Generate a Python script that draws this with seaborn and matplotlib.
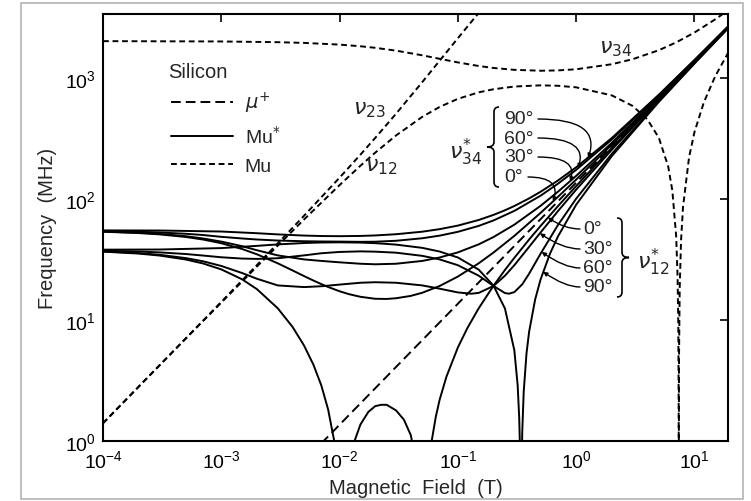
import matplotlib
matplotlib.use("Agg")
import matplotlib.pyplot as plt
import pandas as pd
import seaborn as sns
from matplotlib.lines import Line2D
from matplotlib.path import Path
from matplotlib.patches import PathPatch, Rectangle

# ---------------- data: magnetic field (T) and frequency (MHz) ----------------
# free muon precession
mup_field = [0.0070, 19.2]
mup_freq = [0.949, 2602.0]

# isotropic muonium (Mu)
mu34_field = [1e-4, 1e-3, 3e-3, 5e-3, 1e-2, 1.5e-2, 2e-2, 3e-2, 5e-2, 7e-2, 0.1, 0.15,
              0.2, 0.3, 0.5, 0.7, 1, 2, 3, 5, 7, 10, 15, 19.2]
mu34_freq = [2004.6, 1992.2, 1965.1, 1938.8, 1876.4, 1818.8, 1765.9, 1673.0, 1531.0, 1433.0,
             1337.2, 1249.3, 1203.3, 1161.0, 1141.6, 1148.4, 1174.0, 1292.0, 1421.4, 1687.6,
             1956.9, 2361.9, 3038.0, 3603.5]

mu12_field = [1e-4, 2e-4, 5e-4, 1e-3, 2e-3, 3e-3, 5e-3, 1e-2, 1.5e-2, 2e-2, 3e-2, 5e-2, 7e-2,
              0.1, 0.15, 0.2, 0.3, 0.5, 0.7, 1, 2, 3, 4, 5, 6, 6.5, 7, 7.2, 7.3, 7.35, 7.36,
              7.37, 7.4, 7.5, 7.7, 8, 9, 10, 12, 15, 19.2]
mu12_freq = [1.39, 2.79, 6.97, 13.85, 27.5, 40.94, 67.25, 129.6, 187.2, 240.1, 333.0, 474.9,
             573.0, 668.8, 756.7, 802.7, 845.0, 864.4, 857.6, 832.3, 714.1, 584.5, 451.9,
             318.2, 183.8, 116.5, 49.1, 22.15, 8.67, 1.92, 0.58, 0.78, 4.83, 18.3, 45.3,
             85.5, 220.5, 355.6, 626.0, 1032.0, 1597.5]

mu23_field = [1e-4, 2e-4, 5e-4, 1e-3, 2e-3, 3e-3, 5e-3, 1e-2, 1.5e-2, 2e-2, 3e-2, 5e-2, 7e-2,
              0.1, 0.13, 0.15]
mu23_freq = [1.396, 2.794, 7.0, 14.04, 28.29, 42.72, 72.2, 149.3, 231.2, 317.7, 503.7, 919.7,
             1379.4, 2120.2, 2897.0, 3427.0]

# anisotropic muonium (Mu*), field at 0, 30, 60, 90 degrees to the symmetry axis
mus0_12_field = [1e-4, 2e-4, 3e-4, 5e-4, 7e-4, 1e-3, 1.5e-3, 2e-3, 3e-3, 4e-3, 5e-3, 6e-3,
                 7e-3, 8e-3, 9e-3, 1e-2, 1.2e-2, 1.35e-2, 1.5e-2, 1.75e-2, 2e-2, 2.25e-2,
                 2.5e-2, 3e-2, 3.5e-2, 4e-2, 4.5e-2, 5e-2, 5.5e-2, 6e-2, 6.5e-2, 7e-2, 8e-2,
                 0.1, 0.12, 0.15, 0.2, 0.25, 0.3, 0.4, 0.5, 0.7, 1, 1.5, 2, 3, 5, 10, 19.2]
mus0_12_freq = [36.52, 35.19, 33.90, 31.45, 29.17, 26.04, 21.56, 17.89, 12.43, 8.72, 6.13,
                4.26, 2.87, 1.81, 1.00, 0.36, 0.56, 1.02, 1.36, 1.73, 1.93, 1.98, 1.98, 1.78,
                1.49, 1.11, 0.62, 0.11, 0.43, 0.99, 1.57, 2.17, 3.38, 5.9, 8.49, 12.43, 19.08,
                25.78, 32.44, 46.0, 59.51, 86.58, 127.2, 194.95, 262.7, 398.2, 669.3, 1347.0,
                2594.0]
mus0_34_field = [1e-4, 2e-4, 3e-4, 5e-4, 7e-4, 1e-3, 1.5e-3, 2e-3, 3e-3, 4e-3, 5e-3, 6e-3,
                 7e-3, 8e-3, 1e-2, 1.2e-2, 1.5e-2, 2e-2, 2.5e-2, 3e-2, 4e-2, 5e-2, 7e-2, 0.1,
                 0.15, 0.2, 0.3, 0.5, 0.7, 1, 2, 5, 10, 19.2]
mus0_34_freq = [53.34, 52.01, 50.72, 48.27, 45.99, 42.86, 38.38, 34.71, 29.25, 25.54, 22.95,
                21.08, 19.69, 18.63, 17.18, 16.26, 15.46, 14.89, 14.84, 15.04, 15.73, 16.70,
                18.98, 22.72, 29.25, 35.9, 49.26, 76.33, 103.4, 144.0, 279.5, 686.1, 1363.8,
                2610.8]

mus30_12_field = [1e-4, 2e-4, 3e-4, 5e-4, 7e-4, 1e-3, 1.5e-3, 2e-3, 3e-3, 5e-3, 7e-3, 1e-2,
                  1.5e-2, 2e-2, 3e-2, 5e-2, 7e-2, 0.1, 0.13, 0.15, 0.2, 0.25, 0.3, 0.4, 0.5,
                  0.7, 1, 2, 5, 10, 19.2]
mus30_12_freq = [36.7, 35.5, 34.4, 32.3, 30.4, 27.8, 24.3, 21.8, 19.2, 18.6, 18.9, 19.5, 20.2,
                 20.4, 20.2, 19.2, 18.05, 16.8, 16.4, 16.65, 19.0, 23.1, 28.2, 40.0, 52.6,
                 78.8, 118.9, 253.8, 660.0, 1337.6, 2584.6]
mus30_34_field = [1e-4, 2e-4, 3e-4, 5e-4, 7e-4, 1e-3, 1.5e-3, 2e-3, 3e-3, 5e-3, 7e-3, 1e-2,
                  1.5e-2, 2e-2, 3e-2, 5e-2, 7e-2, 0.1, 0.15, 0.2, 0.3, 0.5, 0.7, 1, 2, 5, 10,
                  19.2]
mus30_34_freq = [53.5, 52.3, 51.2, 49.0, 46.9, 44.2, 40.5, 37.5, 34.0, 31.5, 30.6, 29.8, 29.0,
                 28.7, 29.0, 30.6, 32.65, 36.0, 41.95, 48.2, 61.0, 87.3, 114.0, 154.4, 289.5,
                 695.6, 1373.3, 2620.3]

mus60_12_field = [1e-4, 2e-4, 3e-4, 5e-4, 7e-4, 1e-3, 1.5e-3, 2e-3, 3e-3, 5e-3, 7e-3, 1e-2,
                  1.5e-2, 2e-2, 3e-2, 5e-2, 7e-2, 0.1, 0.15, 0.2, 0.25, 0.27, 0.3, 0.35, 0.4,
                  0.5, 0.7, 1, 2, 5, 10, 19.2]
mus60_12_freq = [37.2, 36.6, 36.0, 34.9, 33.9, 32.8, 32.0, 31.8, 32.2, 34.0, 35.4, 36.3, 36.7,
                 36.5, 35.8, 33.7, 31.5, 28.2, 23.1, 19.0, 16.6, 16.4, 16.9, 19.6, 24.0, 35.1,
                 60.4, 100.1, 234.9, 641.1, 1318.8, 2565.6]
mus60_34_field = [1e-4, 2e-4, 3e-4, 5e-4, 7e-4, 1e-3, 1.5e-3, 2e-3, 3e-3, 5e-3, 7e-3, 1e-2,
                  1.5e-2, 2e-2, 3e-2, 5e-2, 7e-2, 0.1, 0.15, 0.2, 0.3, 0.5, 0.7, 1, 2, 5, 10,
                  19.2]
mus60_34_freq = [54.0, 53.3, 52.6, 51.3, 50.1, 48.4, 46.9, 46.0, 45.1, 44.5, 44.3, 44.2, 44.0,
                 44.1, 44.9, 47.1, 49.5, 53.25, 59.6, 66.1, 79.3, 105.9, 132.8, 173.2, 308.4,
                 714.7, 1392.3, 2639.3]

mus90_12_field = [1e-4, 3e-4, 1e-3, 2e-3, 3e-3, 5e-3, 7e-3, 1e-2, 1.5e-2, 2e-2, 3e-2, 5e-2,
                  7e-2, 0.1, 0.15, 0.2, 0.25, 0.3, 0.32, 0.33, 0.335, 0.34, 0.345, 0.35, 0.36,
                  0.38, 0.4, 0.45, 0.5, 0.6, 0.7, 1, 2, 5, 10, 19.2]
mus90_12_freq = [37.91, 38.02, 39.06, 40.75, 41.9, 43.02, 43.45, 43.6, 43.37, 42.91, 41.74,
                 39.23, 36.6, 32.66, 25.91, 19.13, 12.36, 5.59, 2.88, 1.53, 0.85, 0.18, 0.50,
                 1.18, 2.53, 5.24, 7.95, 14.72, 21.5, 35.05, 48.6, 89.25, 224.8, 631.4, 1309.1,
                 2556.1]
mus90_34_field = [1e-4, 3e-4, 1e-3, 2e-3, 3e-3, 5e-3, 7e-3, 1e-2, 1.5e-2, 2e-2, 3e-2, 5e-2,
                  7e-2, 0.1, 0.15, 0.2, 0.25, 0.3, 0.4, 0.5, 0.7, 1, 2, 5, 10, 19.2]
mus90_34_freq = [54.69, 54.58, 53.54, 51.85, 50.7, 49.58, 49.15, 49.0, 49.23, 49.69, 50.86,
                 53.37, 56.0, 59.94, 66.69, 73.47, 80.24, 87.01, 100.55, 114.1, 141.2, 181.85,
                 317.4, 724.0, 1401.7, 2648.7]

x_ticks = [1e-4, 1e-3, 1e-2, 1e-1, 1e0, 1e1]
x_ticklabels = [r"$\mathregular{10^{-4}}$", r"$\mathregular{10^{-3}}$", r"$\mathregular{10^{-2}}$",
                r"$\mathregular{10^{-1}}$", r"$\mathregular{10^{0}}$", r"$\mathregular{10^{1}}$"]
y_ticks = [1e0, 1e1, 1e2, 1e3]
y_ticklabels = [r"$\mathregular{10^{0}}$", r"$\mathregular{10^{1}}$", r"$\mathregular{10^{2}}$",
                r"$\mathregular{10^{3}}$"]

# ---------------- assemble long table ----------------
series = [
    ("mup", "mu+", mup_field, mup_freq),
    ("Mu34", "Mu", mu34_field, mu34_freq),
    ("Mu12", "Mu", mu12_field, mu12_freq),
    ("Mu23", "Mu", mu23_field, mu23_freq),
    ("Mus0_12", "Mu*", mus0_12_field, mus0_12_freq),
    ("Mus0_34", "Mu*", mus0_34_field, mus0_34_freq),
    ("Mus30_12", "Mu*", mus30_12_field, mus30_12_freq),
    ("Mus30_34", "Mu*", mus30_34_field, mus30_34_freq),
    ("Mus60_12", "Mu*", mus60_12_field, mus60_12_freq),
    ("Mus60_34", "Mu*", mus60_34_field, mus60_34_freq),
    ("Mus90_12", "Mu*", mus90_12_field, mus90_12_freq),
    ("Mus90_34", "Mu*", mus90_34_field, mus90_34_freq),
]
rows = []
for name, kind, fx, fy in series:
    for b, f in zip(fx, fy):
        rows.append({"curve": name, "kind": kind, "field": b, "freq": f})
df = pd.DataFrame(rows)

# ---------------- figure ----------------
sns.set_theme(style="white")
plt.rcParams["font.family"] = ["Liberation Sans", "DejaVu Sans"]
plt.rcParams["mathtext.fontset"] = "dejavusans"

W, H = 751, 502
fig = plt.figure(figsize=(W / 100, H / 100), dpi=100)
fig.patch.set_facecolor("white")
ax = fig.add_axes([103 / W, 1 - 441.7 / H, 625 / W, 426.7 / H])
ax.set_xscale("log")
ax.set_yscale("log")

dash_map = {"mu+": (5.0, 2.6), "Mu*": "", "Mu": (3.0, 1.9)}
sns.lineplot(data=df, x="field", y="freq", units="curve", style="kind", dashes=dash_map,
             estimator=None, sort=False, color="black", linewidth=1.4, legend=False, ax=ax)

ax.set_xlim(1e-4, 19.2)
ax.set_ylim(1.0, 3360)
ax.minorticks_off()
ax.set_xticks(x_ticks)
ax.set_xticklabels(x_ticklabels)
ax.set_yticks(y_ticks)
ax.set_yticklabels(y_ticklabels)
ax.tick_params(which="major", direction="in", length=6, width=1.2, top=True, right=True,
               labelsize=14, colors="black")
ax.tick_params(axis="x", pad=6)
ax.tick_params(axis="y", pad=5)
for sp in ax.spines.values():
    sp.set_linewidth(1.5)
    sp.set_color("black")
ax.set_xlabel("Magnetic  Field  (T)", fontsize=14.5, labelpad=5)
ax.set_ylabel("Frequency  (MHz)", fontsize=14.5, labelpad=6)


def fpx(x, y):
    return (x / W, 1 - y / H)


# legend: title text plus the three line kinds
fig.text(*fpx(168, 72), "Silicon", fontsize=14.5, ha="left", va="center")
handles = [Line2D([], [], color="black", lw=1.4, dashes=(5.0, 2.6)),
           Line2D([], [], color="black", lw=1.4),
           Line2D([], [], color="black", lw=1.4, dashes=(3.0, 1.9))]
labels = [r"$\mu^{+}$", r"Mu$^{*}$", "Mu"]
ax.legend(handles, labels, loc="upper left", bbox_to_anchor=(0.093, 0.845),
          frameon=False, fontsize=14, handlelength=3.2, handletextpad=0.6,
          labelspacing=0.52, borderpad=0.0)

# curve labels
fig.text(*fpx(616, 49), r"$\nu_{34}$", fontsize=16, ha="center", va="center")
fig.text(*fpx(369, 110), r"$\nu_{23}$", fontsize=16, ha="center", va="center")
fig.text(*fpx(381, 167), r"$\nu_{12}$", fontsize=16, ha="center", va="center")
fig.text(*fpx(466, 152), r"$\nu^{*}_{34}$", fontsize=16, ha="center", va="center")
fig.text(*fpx(653, 262), r"$\nu^{*}_{12}$", fontsize=16, ha="center", va="center")

# angle labels for nu*_34 with leaders to the curves
tips34 = [(1.26, 217.0), (1.036, 178.0), (0.886, 139.1), (0.6365, 94.7)]
labs34 = [("90°", 120), ("60°", 139), ("30°", 158), ("0°", 178)]
for (lab, ly), tip in zip(labs34, tips34):
    fig.text(*fpx(504, ly), lab, fontsize=14, ha="left", va="center")
    xend = 538 if lab != "0°" else 528
    ax.annotate("", xy=tip, xycoords="data", xytext=fpx(xend, ly), textcoords="figure fraction",
                arrowprops=dict(arrowstyle="-|>", connectionstyle="angle3,angleA=0,angleB=70",
                                color="black", lw=1.0, shrinkA=0, shrinkB=0, mutation_scale=6))

# angle labels for nu*_12 with leaders to the curves
tips12 = [(0.5776, 69.9), (0.4936, 51.8), (0.5102, 36.3), (0.5254, 24.9)]
labs12 = [("0°", 230), ("30°", 250), ("60°", 269), ("90°", 288)]
for (lab, ly), tip in zip(labs12, tips12):
    fig.text(*fpx(583, ly), lab, fontsize=14, ha="left", va="center")
    ax.annotate("", xy=tip, xycoords="data", xytext=fpx(580, ly), textcoords="figure fraction",
                arrowprops=dict(arrowstyle="-|>", connectionstyle="angle3,angleA=0,angleB=-35",
                                color="black", lw=1.0, shrinkA=0, shrinkB=0, mutation_scale=6))


def brace(xs, y0, y1, tip, w_end=5, w_tip=7):
    """Curly brace in pixel coordinates; tip=-1 points left, +1 points right."""
    ym = 0.5 * (y0 + y1)
    e = -tip
    r = 5
    pts = [(xs + e * w_end, y0), (xs, y0), (xs, y0 + r),
           (xs, ym - r), (xs, ym), (xs + tip * w_tip, ym),
           (xs, ym), (xs, ym + r),
           (xs, y1 - r), (xs, y1), (xs + e * w_end, y1)]
    codes = [Path.MOVETO, Path.CURVE3, Path.CURVE3, Path.LINETO, Path.CURVE3, Path.CURVE3,
             Path.CURVE3, Path.CURVE3, Path.LINETO, Path.CURVE3, Path.CURVE3]
    path = Path([fpx(*p) for p in pts], codes)
    fig.add_artist(PathPatch(path, transform=fig.transFigure, fill=False, lw=1.2,
                             edgecolor="black"))


brace(494, 108, 188, -1)
brace(622, 219, 298, +1)

# thin grey frame around the whole graphic
fig.add_artist(Rectangle(fpx(21, 500), 722 / W, 496 / H, transform=fig.transFigure,
                         fill=False, edgecolor="#b4b4b4", lw=1.2))

fig.savefig("out.png", dpi=100, facecolor="white")
